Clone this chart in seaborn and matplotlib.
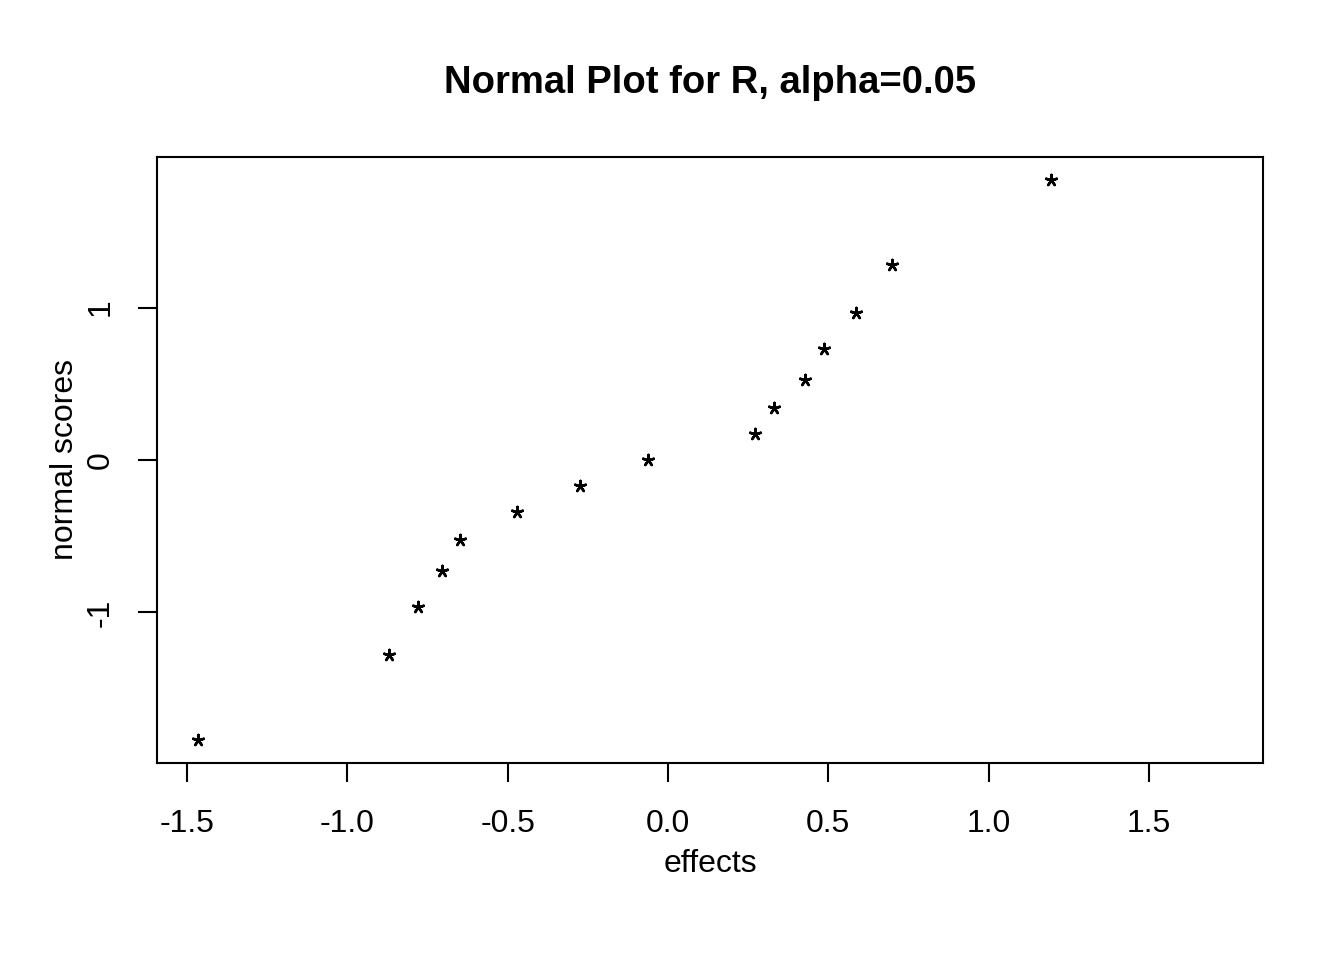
import matplotlib
matplotlib.use("Agg")
import matplotlib.pyplot as plt
import seaborn as sns
import pandas as pd

# effects (x) and normal scores (y)
effects = [-1.466, -0.870, -0.780, -0.705, -0.649, -0.471, -0.275, -0.062,
           0.271, 0.331, 0.427, 0.487, 0.587, 0.699, 1.195]
normal_scores = [-1.834, -1.282, -0.967, -0.728, -0.524, -0.341, -0.168, 0.0,
                 0.168, 0.341, 0.524, 0.728, 0.967, 1.282, 1.834]
x_ticks = [-1.5, -1.0, -0.5, 0.0, 0.5, 1.0, 1.5]
x_tick_labels = ["-1.5", "-1.0", "-0.5", "0.0", "0.5", "1.0", "1.5"]
y_ticks = [-1, 0, 1]
y_tick_labels = ["-1", "0", "1"]

df = pd.DataFrame({"effects": effects, "normal scores": normal_scores})

sns.set_theme(style="white")
plt.rcParams["font.family"] = ["Liberation Sans", "DejaVu Sans"]
plt.rcParams["axes.unicode_minus"] = False

fig = plt.figure(figsize=(13.44, 9.6), dpi=100)
ax = fig.add_axes([157 / 1344, 1 - 763 / 960, (1263 - 157) / 1344, (763 - 157) / 960])

sns.scatterplot(data=df, x="effects", y="normal scores", ax=ax,
                marker=(5, 2, 0), s=65, color="black", linewidth=1.8,
                edgecolor="black")

ax.set_xlim(-1.594, 1.856)
ax.set_ylim(-1.987, 1.987)
ax.set_xticks(x_ticks)
ax.set_xticklabels(x_tick_labels, fontsize=23)
ax.set_yticks(y_ticks)
ax.set_yticklabels(y_tick_labels, fontsize=23, rotation=90, va="center")

for side in ["top", "bottom", "left", "right"]:
    ax.spines[side].set_visible(True)
    ax.spines[side].set_color("black")
    ax.spines[side].set_linewidth(1.5)

ax.tick_params(axis="both", direction="out", length=14, width=1.5,
               color="black", labelcolor="black")
ax.tick_params(axis="x", bottom=True, pad=19)
ax.tick_params(axis="y", left=True, pad=16)

ax.set_xlabel("effects", fontsize=23, color="black", labelpad=7)
ax.set_ylabel("normal scores", fontsize=23, color="black", labelpad=4)
ax.set_title("Normal Plot for R, alpha=0.05", fontsize=27.5, fontweight="bold",
             color="black", pad=46)

fig.savefig("out.png", dpi=100, facecolor="white")
